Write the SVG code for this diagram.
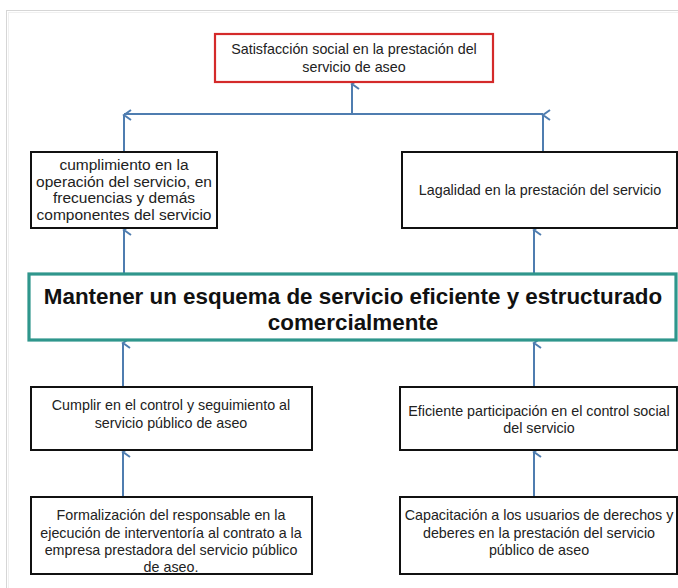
<svg xmlns="http://www.w3.org/2000/svg" width="678" height="588" viewBox="0 0 678 588">
<style>
  text { font-family: "Liberation Sans", Arial, sans-serif; fill: #222; text-anchor: middle; }
  .s { font-size: 14.3px; }
  .m { font-size: 15.5px; }
  .b { font-size: 22.4px; font-weight: bold; fill: #111; }
  .box { fill: #fff; stroke: #111; stroke-width: 2; }
  .red { fill: #fff; stroke: #d42a2a; stroke-width: 2.2; }
  .teal { fill: #fff; stroke: #2f968c; stroke-width: 3.2; }
  .conn { fill: none; stroke: #4f7db0; stroke-width: 2; }
</style>
<defs>
  <marker id="ah" markerUnits="userSpaceOnUse" markerWidth="14" markerHeight="14" viewBox="-7 -2 14 14" refX="0" refY="0" orient="auto-start-reverse">
    <path d="M-5,7 L0,0 L5,7" fill="none" stroke="#4f7db0" stroke-width="2"/>
  </marker>
</defs>
<rect x="0" y="0" width="678" height="588" fill="#fff"/>
<rect x="6.5" y="10.5" width="690" height="600" fill="none" stroke="#d6d6d6" stroke-width="1"/>
<rect x="8.5" y="12.5" width="690" height="600" fill="none" stroke="#f0f0f0" stroke-width="1"/>

<g id="connectors">
  <path class="conn" d="M124,114 L543,114"/>
  <path class="conn" d="M124,152 L124,115" marker-end="url(#ah)"/>
  <path class="conn" d="M543,152 L543,115" marker-end="url(#ah)"/>
  <path class="conn" d="M352,114 L352,84" marker-end="url(#ah)"/>
  <path class="conn" d="M124,273 L124,230" marker-end="url(#ah)"/>
  <path class="conn" d="M534,273 L534,230" marker-end="url(#ah)"/>
  <path class="conn" d="M123,387 L123,343" marker-end="url(#ah)"/>
  <path class="conn" d="M123,497 L123,452" marker-end="url(#ah)"/>
  <path class="conn" d="M534,387 L534,343" marker-end="url(#ah)"/>
  <path class="conn" d="M534,497 L534,452" marker-end="url(#ah)"/>
</g>

<g id="satisfaccion">
  <rect class="red" x="215" y="34" width="278" height="48"/>
  <text class="s" x="354" y="54">Satisfacción social en la prestación del</text>
  <text class="s" x="354" y="72">servicio de aseo</text>
</g>

<g id="cumplimiento">
  <rect class="box" x="31" y="152" width="186" height="76"/>
  <text class="m" x="124" y="170">cumplimiento en la</text>
  <text class="m" x="124" y="187">operación del servicio, en</text>
  <text class="m" x="124" y="203">frecuencias y demás</text>
  <text class="m" x="124" y="220">componentes del servicio</text>
</g>

<g id="legalidad">
  <rect class="box" x="402" y="152" width="275" height="76"/>
  <text class="s" x="540" y="195">Lagalidad en la prestación del servicio</text>
</g>

<g id="mantener">
  <rect class="teal" x="29" y="274" width="647" height="66"/>
  <text class="b" x="353" y="304">Mantener un esquema de servicio eficiente y estructurado</text>
  <text class="b" x="353" y="330">comercialmente</text>
</g>

<g id="control">
  <rect class="box" x="31" y="387" width="281" height="63"/>
  <text class="s" x="171" y="410">Cumplir en el control y seguimiento al</text>
  <text class="s" x="171" y="428">servicio público de aseo</text>
</g>

<g id="participacion">
  <rect class="box" x="400" y="387" width="277" height="63"/>
  <text class="s" x="539" y="416">Eficiente participación en el control social</text>
  <text class="s" x="539" y="433">del servicio</text>
</g>

<g id="formalizacion">
  <rect class="box" x="31" y="497" width="281" height="77"/>
  <text class="s" x="171" y="520">Formalización del responsable en la</text>
  <text class="s" x="171" y="538">ejecución de interventoría al contrato a la</text>
  <text class="s" x="171" y="555">empresa prestadora del servicio público</text>
  <text class="s" x="171" y="572">de aseo.</text>
</g>

<g id="capacitacion">
  <rect class="box" x="400" y="497" width="277" height="77"/>
  <text class="s" x="539" y="520">Capacitación a los usuarios de derechos y</text>
  <text class="s" x="539" y="538">deberes en la prestación del servicio</text>
  <text class="s" x="539" y="555">público de aseo</text>
</g>
</svg>
